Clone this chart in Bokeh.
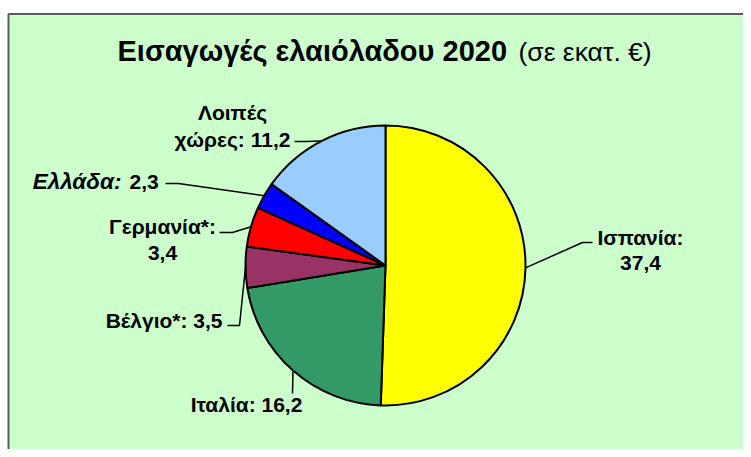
import math
from bokeh.plotting import figure
from bokeh.models import Range1d
from bokeh.core.properties import value
from bokeh.embed import file_html
from bokeh.resources import INLINE

# ---- data ----
countries = ["Ισπανία", "Ιταλία", "Βέλγιο*", "Γερμανία*", "Ελλάδα", "Λοιπές χώρες"]
values = [37.4, 16.2, 3.5, 3.4, 2.3, 11.2]
value_labels = ["37,4", "16,2", "3,5", "3,4", "2,3", "11,2"]
colors = ["#FFFF00", "#339966", "#993366", "#FF0000", "#0000FF", "#99CCFF"]
title_bold = "Εισαγωγές ελαιόλαδου 2020"
title_normal = "(σε εκατ. €)"

W, H = 743, 449
TOP = 449  # data y = TOP - screen_y


def sy(y):
    return TOP - y


p = figure(width=W, height=H, output_backend="svg", toolbar_location=None,
           x_range=Range1d(0, W), y_range=Range1d(0, H), min_border=0)
p.axis.visible = False
p.grid.visible = False
p.outline_line_color = None
p.background_fill_color = "white"
p.border_fill_color = "white"

FONT = value("Liberation Sans")

# chart area
p.quad(left=8, right=800, top=sy(13.5), bottom=-50, fill_color="#CCFFCC",
       line_color="#5a5f5a", line_width=2)

# pie
cx, cy, r = 385, sy(265), 140
total = sum(values)
cum = 0.0
starts, ends, mids = [], [], []
for v in values:
    f0 = cum / total
    cum += v
    f1 = cum / total
    starts.append(math.pi / 2 - f0 * 2 * math.pi)
    ends.append(math.pi / 2 - f1 * 2 * math.pi)
    mids.append(math.pi / 2 - (f0 + f1) / 2 * 2 * math.pi)

p.wedge(x=cx, y=cy, radius=r, start_angle=starts, end_angle=ends,
        direction="clock", fill_color=colors, line_color="black", line_width=2)

# leader lines: (elbow, end) in screen coords
leaders = [((582, 242), (592, 242)),
           ((292, 393), (292, 393)),
           ((239, 325), (227, 325)),
           ((232, 232), (219, 232)),
           ((178, 183), (165, 183)),
           ((305, 141), (294, 141))]
xs, ys = [], []
for a, (el, en) in zip(mids, leaders):
    ex, ey = cx + r * math.cos(a), cy + r * math.sin(a)
    xs.append([ex, el[0], en[0]])
    ys.append([ey, sy(el[1]), sy(en[1])])
p.multi_line(xs=xs, ys=ys, line_color="black", line_width=1.5)

FS = "21px"

def txt(x, y, s, align="center", style="bold", size=FS):
    p.text(x=[x], y=[sy(y)], text=[s], text_font=FONT, text_font_size=size,
           text_font_style=style, text_align=align, text_baseline="middle",
           text_color="black")

# labels
txt(640, 237, countries[0] + ":")
txt(640, 262, value_labels[0])
txt(246, 404, countries[1] + ": " + value_labels[1])
txt(222, 320, countries[2] + ": " + value_labels[2], align="right")
txt(162, 226, countries[3] + ":")
txt(162, 252, value_labels[3])
txt(121, 181, countries[4] + ":", align="right", style="bold italic", size="22.5px")
txt(129, 181, value_labels[4], align="left")
txt(232, 112, countries[5].split(" ")[0])
txt(232, 139, countries[5].split(" ")[1] + ": " + value_labels[5])

# title
txt(117, 50, title_bold, align="left", size="29px")
txt(518, 51, title_normal, align="left", style="normal", size="26.5px")

open("out.html", "w").write(file_html(p, INLINE))
